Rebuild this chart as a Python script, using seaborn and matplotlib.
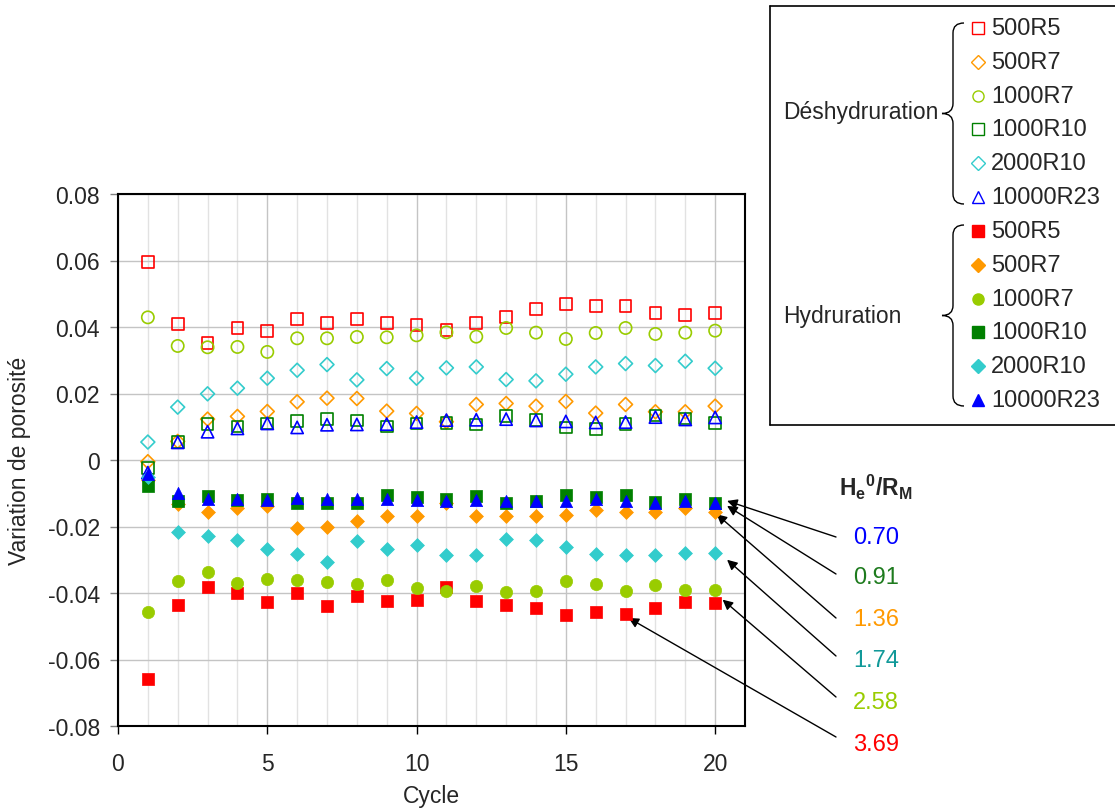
import numpy as np
import pandas as pd
import matplotlib
matplotlib.use('Agg')
import matplotlib.pyplot as plt
from matplotlib.path import Path
from matplotlib.patches import PathPatch
from matplotlib.lines import Line2D
import seaborn as sns

# donnees
cycles = list(range(1, 21))
series_names = ['500R5', '500R7', '1000R7', '1000R10', '2000R10', '10000R23']
series_colors = ['#FF0000', '#FF9900', '#99CC00', '#008000', '#33CCCC', '#0000FF']
series_markers = ['s', 'D', 'o', 's', 'D', '^']

# Deshydruration (symboles vides)
des_500R5 = [0.0595, 0.0409, 0.0351, 0.0398, 0.0387, 0.0425, 0.0412, 0.0423, 0.0412, 0.0407,
             0.0391, 0.0413, 0.0431, 0.0455, 0.0470, 0.0464, 0.0464, 0.0441, 0.0436, 0.0443]
des_500R7 = [-0.0005, 0.0056, 0.0123, 0.0131, 0.0146, 0.0175, 0.0186, 0.0185, 0.0147, 0.0140,
             0.0115, 0.0167, 0.0170, 0.0162, 0.0176, 0.0141, 0.0167, 0.0145, 0.0145, 0.0162]
des_1000R7 = [0.0429, 0.0343, 0.0339, 0.0340, 0.0325, 0.0366, 0.0366, 0.0370, 0.0369, 0.0375,
              0.0384, 0.0371, 0.0397, 0.0383, 0.0364, 0.0382, 0.0397, 0.0379, 0.0383, 0.0389]
des_1000R10 = [-0.0025, 0.0054, 0.0108, 0.0101, 0.0110, 0.0117, 0.0124, 0.0119, 0.0101, 0.0110,
               0.0112, 0.0107, 0.0133, 0.0120, 0.0098, 0.0094, 0.0108, 0.0134, 0.0125, 0.0112]
des_2000R10 = [0.0054, 0.0159, 0.0199, 0.0216, 0.0246, 0.0270, 0.0287, 0.0241, 0.0275, 0.0246,
               0.0277, 0.0280, 0.0242, 0.0238, 0.0258, 0.0280, 0.0290, 0.0284, 0.0297, 0.0276]
des_10000R23 = [-0.0038, 0.0053, 0.0085, 0.0095, 0.0110, 0.0098, 0.0106, 0.0107, 0.0108, 0.0114,
                0.0120, 0.0121, 0.0123, 0.0119, 0.0116, 0.0113, 0.0114, 0.0129, 0.0122, 0.0128]

# Hydruration (symboles pleins)
hyd_500R5 = [-0.0659, -0.0436, -0.0383, -0.0400, -0.0426, -0.0399, -0.0438, -0.0408, -0.0424, -0.0420,
             -0.0381, -0.0423, -0.0436, -0.0446, -0.0465, -0.0457, -0.0463, -0.0446, -0.0427, -0.0429]
hyd_500R7 = [-0.0060, -0.0133, -0.0156, -0.0143, -0.0138, -0.0206, -0.0200, -0.0182, -0.0168, -0.0168,
             -0.0130, -0.0168, -0.0168, -0.0169, -0.0165, -0.0150, -0.0155, -0.0157, -0.0145, -0.0156]
hyd_1000R7 = [-0.0457, -0.0365, -0.0336, -0.0369, -0.0358, -0.0360, -0.0368, -0.0374, -0.0361, -0.0384,
              -0.0395, -0.0378, -0.0398, -0.0393, -0.0365, -0.0372, -0.0395, -0.0376, -0.0392, -0.0392]
hyd_1000R10 = [-0.0077, -0.0122, -0.0107, -0.0119, -0.0118, -0.0128, -0.0130, -0.0129, -0.0106, -0.0110,
               -0.0116, -0.0108, -0.0130, -0.0123, -0.0105, -0.0110, -0.0106, -0.0127, -0.0117, -0.0130]
hyd_2000R10 = [-0.0050, -0.0217, -0.0229, -0.0241, -0.0267, -0.0282, -0.0307, -0.0245, -0.0269, -0.0255,
               -0.0285, -0.0285, -0.0238, -0.0240, -0.0261, -0.0284, -0.0286, -0.0286, -0.0281, -0.0280]
hyd_10000R23 = [-0.0042, -0.0098, -0.0116, -0.0116, -0.0120, -0.0114, -0.0116, -0.0116, -0.0116, -0.0120,
                -0.0123, -0.0121, -0.0123, -0.0123, -0.0123, -0.0116, -0.0123, -0.0130, -0.0123, -0.0130]

des_values = [des_500R5, des_500R7, des_1000R7, des_1000R10, des_2000R10, des_10000R23]
hyd_values = [hyd_500R5, hyd_500R7, hyd_1000R7, hyd_1000R10, hyd_2000R10, hyd_10000R23]

ratio_labels = ['0.70', '0.91', '1.36', '1.74', '2.58', '3.69']
ratio_colors = ['#0000FF', '#1E7B1E', '#FF9900', '#119999', '#99CC00', '#FF0000']
ratio_series = ['10000R23', '1000R10', '500R7', '2000R10', '1000R7', '500R5']

ytick_vals = [-0.08, -0.06, -0.04, -0.02, 0, 0.02, 0.04, 0.06, 0.08]
ytick_labels = ['-0.08', '-0.06', '-0.04', '-0.02', '0', '0.02', '0.04', '0.06', '0.08']
xtick_vals = [0, 5, 10, 15, 20]

sns.set_style('white')
plt.rcParams['font.family'] = ['Liberation Sans', 'DejaVu Sans']
plt.rcParams['mathtext.fontset'] = 'custom'
plt.rcParams['mathtext.rm'] = 'Liberation Sans'
plt.rcParams['mathtext.bf'] = 'Liberation Sans:bold'

W, H = 1115, 812
fig = plt.figure(figsize=(W / 100, H / 100), dpi=100)

def fx(px):
    return px / W

def fy(py):
    return 1 - py / H

ax = fig.add_axes([fx(118), fy(727), fx(745) - fx(118), fy(195) - fy(727)])

sizes = {'s': 72, 'D': 50, 'o': 78, '^': 78}
for name, color, mk, vals in zip(series_names, series_colors, series_markers, des_values):
    sns.scatterplot(x=cycles, y=vals, marker=mk, s=sizes[mk], facecolors='none',
                    edgecolor=color, linewidth=1.2, ax=ax, zorder=3)
for name, color, mk, vals in zip(series_names, series_colors, series_markers, hyd_values):
    sns.scatterplot(x=cycles, y=vals, marker=mk, s=sizes[mk], color=color,
                    edgecolor=color, linewidth=0.5, ax=ax, zorder=4)

ax.set_xlim(0, 21)
ax.set_ylim(-0.08, 0.08)
ax.set_xticks(xtick_vals)
ax.set_xticks(range(0, 21), minor=True)
ax.set_yticks(ytick_vals)
ax.set_yticklabels(ytick_labels)
ax.grid(True, which='major', axis='x', color='#c4c4c4', lw=1)
ax.grid(True, which='minor', axis='x', color='#e2e2e2', lw=1)
ax.grid(True, which='major', axis='y', color='#c4c4c4', lw=1)
ax.set_axisbelow(True)
ax.tick_params(axis='x', which='major', direction='out', length=6, width=1, color='black',
               labelsize=16.5, pad=13, bottom=True)
ax.tick_params(axis='x', which='minor', length=0)
ax.tick_params(axis='y', direction='out', length=6, width=1, color='#808080',
               labelsize=16.5, pad=7, left=True)
for sp in ax.spines.values():
    sp.set_color('black')
    sp.set_linewidth(1.5)
ax.set_xlabel('Cycle', fontsize=16.5, labelpad=6)
ax.set_ylabel('Variation de porosité', fontsize=16.5, labelpad=12)

# legende manuelle avec accolades
fig.add_artist(Line2D([fx(770), fx(770)], [fy(7), fy(426)], color='black', lw=1.2,
                      transform=fig.transFigure))
fig.add_artist(Line2D([fx(770), fx(1116)], [fy(7), fy(7)], color='black', lw=1.2,
                      transform=fig.transFigure))
fig.add_artist(Line2D([fx(770), fx(1116)], [fy(426), fy(426)], color='black', lw=1.2,
                      transform=fig.transFigure))

def brace(y0, y1, xv=953, xt=942, xa=964, r=10):
    ym = (y0 + y1) / 2
    pts = [(xa, y0), (xv, y0), (xv, y0 + r), (xv, ym - r), (xv, ym), (xt, ym),
           (xv, ym), (xv, ym + r), (xv, y1 - r), (xv, y1), (xa, y1)]
    codes = [Path.MOVETO, Path.CURVE3, Path.CURVE3, Path.LINETO, Path.CURVE3, Path.CURVE3,
             Path.CURVE3, Path.CURVE3, Path.LINETO, Path.CURVE3, Path.CURVE3]
    verts = [(fx(a), fy(b)) for a, b in pts]
    fig.add_artist(PathPatch(Path(verts, codes), fill=False, lw=1, edgecolor='black',
                             transform=fig.transFigure))

brace(24, 205)
brace(226, 407)
fig.text(fx(783), fy(113), 'Déshydruration', fontsize=16.5, va='center', ha='left')
fig.text(fx(783), fy(316), 'Hydruration', fontsize=16.5, va='center', ha='left')

row_y = [29, 63, 97, 130, 164, 198]
for k, (name, color, mk) in enumerate(zip(series_names, series_colors, series_markers)):
    ms = 8 if mk != 'D' else 7
    fig.add_artist(Line2D([fx(978)], [fy(row_y[k])], marker=mk, ms=ms, mfc='none', mec=color,
                          mew=1, ls='none', transform=fig.transFigure))
    fig.text(fx(991), fy(row_y[k]), name, fontsize=17, va='center', ha='left')
    fig.add_artist(Line2D([fx(978)], [fy(row_y[k] + 203)], marker=mk, ms=ms, mfc=color, mec=color,
                          mew=1, ls='none', transform=fig.transFigure))
    fig.text(fx(991), fy(row_y[k] + 203), name, fontsize=17, va='center', ha='left')

# rapports He0/RM avec fleches
fig.text(fx(876), fy(487), r'$\mathbf{H_e{}^0/R_M}$', fontsize=16.5, ha='center', va='center')
text_y = [538, 578, 620, 661, 703, 745]
start_y = [538, 575, 619, 657, 698, 738]
target_x = [20.4, 20.4, 20.05, 20.4, 20.25, 17.1]
target_y = [-0.0123, -0.0138, -0.0163, -0.030, -0.0420, -0.0475]
for lab, col, ty, sy, tx, tyy in zip(ratio_labels, ratio_colors, text_y, start_y, target_x, target_y):
    fig.text(fx(876), fy(ty), lab, fontsize=17, color=col, ha='center', va='center')
    ax.annotate('', xy=(tx, tyy), xycoords='data',
                xytext=(fx(836), fy(sy)), textcoords='figure fraction',
                arrowprops=dict(arrowstyle='-|>', color='black', lw=1, mutation_scale=15,
                                shrinkA=0, shrinkB=0),
                annotation_clip=False)

fig.savefig('out.png', dpi=100)
